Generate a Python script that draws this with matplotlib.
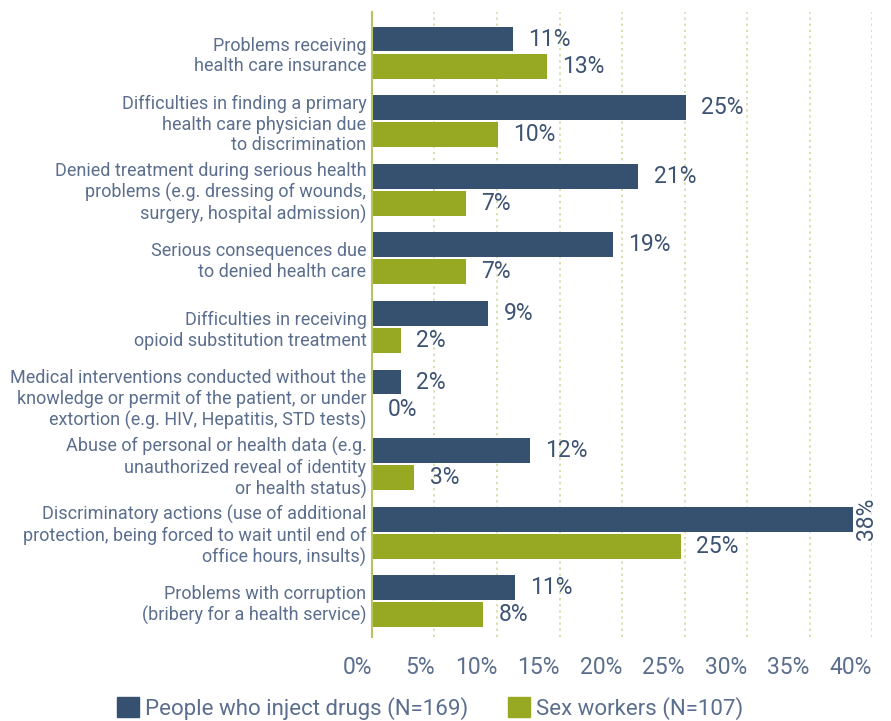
import matplotlib
matplotlib.use("Agg")
import matplotlib.pyplot as plt
import numpy as np
from matplotlib.patches import Patch

categories = [
    "Problems receiving\nhealth care insurance",
    "Difficulties in finding a primary\nhealth care physician due\nto discrimination",
    "Denied treatment during serious health\nproblems (e.g. dressing of wounds,\nsurgery, hospital admission)",
    "Serious consequences due\nto denied health care",
    "Difficulties in receiving\nopioid substitution treatment",
    "Medical interventions conducted without the\nknowledge or permit of the patient, or under\nextortion (e.g. HIV, Hepatitis, STD tests)",
    "Abuse of personal or health data (e.g.\nunauthorized reveal of identity\nor health status)",
    "Discriminatory actions (use of additional\nprotection, being forced to wait until end of\noffice hours, insults)",
    "Problems with corruption\n(bribery for a health service)",
]
pwid_values = [11.3, 25.1, 21.3, 19.3, 9.3, 2.3, 12.6, 38.5, 11.4]
sw_values = [14.0, 10.1, 7.5, 7.5, 2.3, 0.0, 3.4, 24.7, 8.9]
pwid_labels = ["11%", "25%", "21%", "19%", "9%", "2%", "12%", "38%", "11%"]
sw_labels = ["13%", "10%", "7%", "7%", "2%", "0%", "3%", "25%", "8%"]
series_names = ["People who inject drugs (N=169)", "Sex workers (N=107)"]
xticks = [0, 5, 10, 15, 20, 25, 30, 35, 40]
xtick_labels = [f"{t}%" for t in xticks]

BLUE = "#36506f"
GREEN = "#97a823"
TXT = "#5b6e8e"
VAL = "#3d5373"
GRID = "#ccd796"

plt.rcParams['font.family'] = ['Roboto', 'DejaVu Sans']

fig = plt.figure(figsize=(8.91, 7.21), dpi=100)
ax = fig.add_axes([0.4175, 0.1165, 0.5612, 0.8668])

y = np.arange(len(categories))
off = 0.197
h = 0.364
ax.barh(y - off, pwid_values, height=h, color=BLUE, zorder=3)
ax.barh(y + off, sw_values, height=h, color=GREEN, zorder=3)

ax.set_xlim(0, 40)
ax.set_ylim(8.52, -0.59)

VFS = 16.5
for i, (v, lab) in enumerate(zip(pwid_values, pwid_labels)):
    if v > 35:
        ax.annotate(lab, (v, i - off), xytext=(1, 0), textcoords="offset points",
                    rotation=90, ha="left", va="center", fontsize=VFS, color=VAL, zorder=4)
    else:
        ax.annotate(lab, (v, i - off), xytext=(11, 0), textcoords="offset points",
                    ha="left", va="center", fontsize=VFS, color=VAL, zorder=4)
for i, (v, lab) in enumerate(zip(sw_values, sw_labels)):
    ax.annotate(lab, (v, i + off), xytext=(11, 0), textcoords="offset points",
                ha="left", va="center", fontsize=VFS, color=VAL, zorder=4)

ax.set_yticks(y)
ax.set_yticklabels(categories, fontsize=13, color=TXT, linespacing=1.2)
ax.tick_params(axis="y", length=0, pad=4)

ax.set_xticks(xticks)
ax.set_xticklabels(xtick_labels, fontsize=16.5, color=TXT, ha="right")
ax.tick_params(axis="x", length=0, pad=14)

for t in xticks[1:]:
    ax.axvline(t, color=GRID, linestyle=(0, (1.5, 2.5)), linewidth=1.1, zorder=1)

for s in ["top", "right", "bottom"]:
    ax.spines[s].set_visible(False)
ax.spines["left"].set_color("#b7c462")
ax.spines["left"].set_linewidth(1.5)
ax.spines["left"].set_zorder(5)

handles = [Patch(color=BLUE), Patch(color=GREEN)]
leg = fig.legend(handles, series_names, loc="center", bbox_to_anchor=(0.4826, 0.018),
                 ncol=2, frameon=False, fontsize=16, handlelength=1.0, handleheight=1.0,
                 handletextpad=0.25, columnspacing=1.8, borderpad=0, borderaxespad=0)
for t in leg.get_texts():
    t.set_color(TXT)

fig.savefig("out.png", dpi=100)
